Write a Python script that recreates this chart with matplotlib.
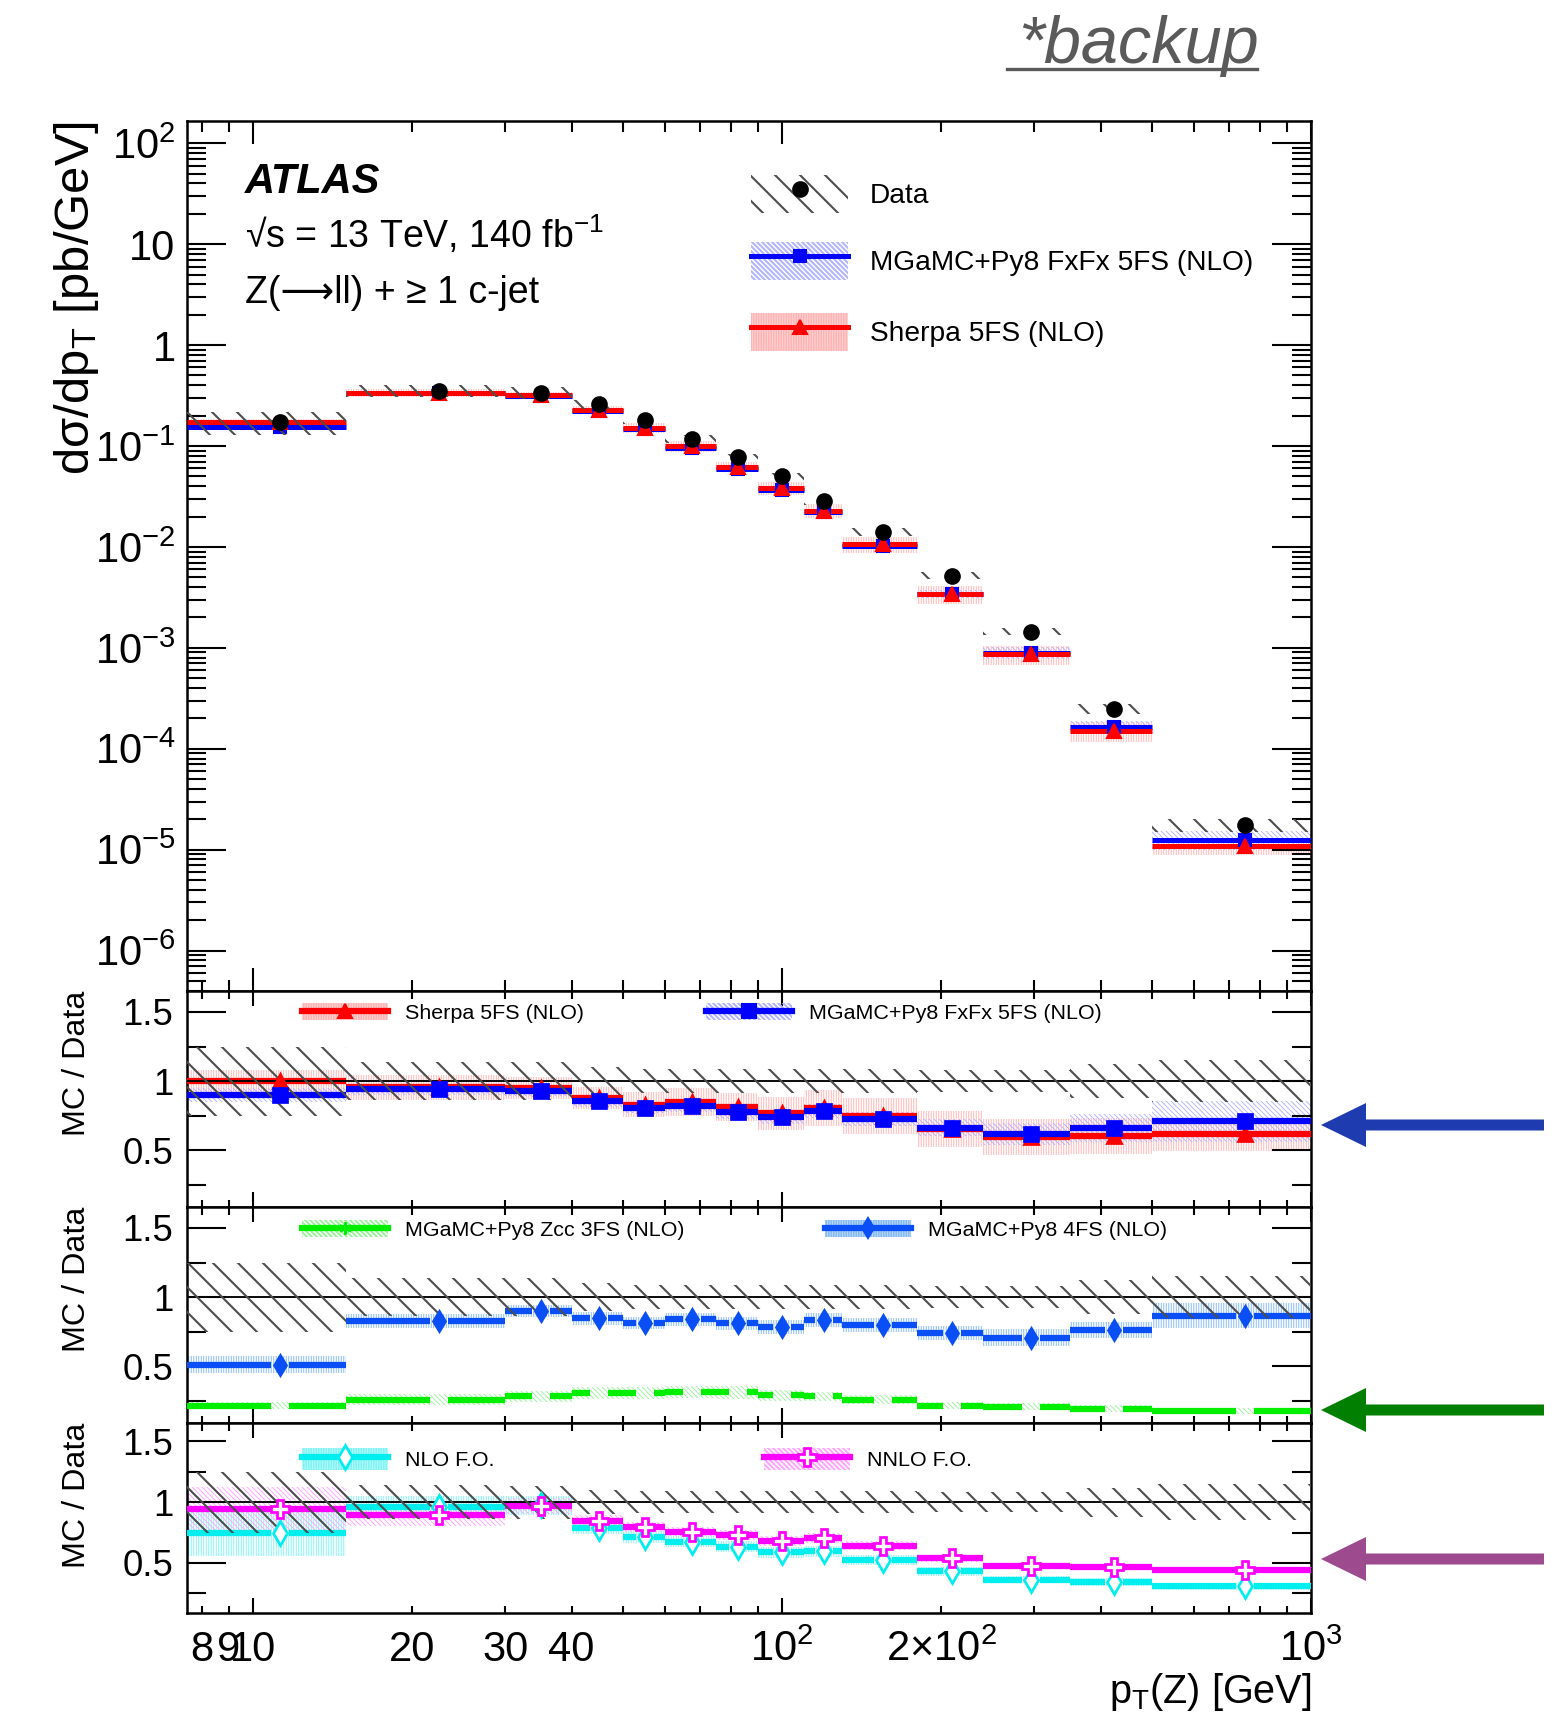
import numpy as np
import matplotlib
matplotlib.use('Agg')
import matplotlib.pyplot as plt
from matplotlib.patches import Patch, Polygon
from matplotlib.lines import Line2D
from matplotlib.legend_handler import HandlerTuple
from matplotlib.ticker import FixedLocator, FuncFormatter, NullFormatter, LogLocator, MultipleLocator

plt.rcParams['font.family'] = ['Liberation Sans', 'DejaVu Sans']
plt.rcParams['mathtext.fontset'] = 'custom'
plt.rcParams['mathtext.rm'] = 'Liberation Sans'
plt.rcParams['mathtext.it'] = 'Liberation Sans:italic'
plt.rcParams['mathtext.bf'] = 'Liberation Sans:bold'

# pT(Z) bin edges [GeV]
edges = [7.5, 15, 30, 40, 50, 60, 75, 90, 110, 130, 180, 240, 350, 500, 1000]

# main panel: dsigma/dpT [pb/GeV]
xsec_data = [0.172, 0.353, 0.335, 0.258, 0.182, 0.117, 0.077, 0.050, 0.0285, 0.0142,
             0.0052, 0.00145, 2.49e-4, 1.77e-5]
unc_data = [0.25, 0.14, 0.135, 0.10, 0.09, 0.09, 0.09, 0.09, 0.09, 0.09, 0.08, 0.08, 0.12, 0.15]
xsec_mg = [0.155, 0.332, 0.312, 0.221, 0.147, 0.0955, 0.0597, 0.0370, 0.0223, 0.0103,
           0.00344, 8.96e-4, 1.64e-4, 1.25e-5]
xsec_sherpa = [0.172, 0.337, 0.318, 0.227, 0.151, 0.0995, 0.0624, 0.0384, 0.0229, 0.0106,
               0.00341, 8.66e-4, 1.50e-4, 1.09e-5]

# ratio panel 1
ratio_mg = [0.90, 0.94, 0.93, 0.855, 0.807, 0.816, 0.775, 0.739, 0.783, 0.727, 0.662, 0.618, 0.659, 0.708]
unc_mg = [0.05, 0.04, 0.04, 0.04, 0.04, 0.04, 0.05, 0.05, 0.05, 0.05, 0.06, 0.08, 0.10, 0.15]
ratio_sherpa = [1.00, 0.955, 0.95, 0.879, 0.83, 0.85, 0.81, 0.768, 0.804, 0.746, 0.655, 0.597, 0.601, 0.616]
unc_sherpa = [0.08, 0.09, 0.08, 0.08, 0.09, 0.10, 0.10, 0.12, 0.13, 0.13, 0.13, 0.13, 0.13, 0.12]

# ratio panel 2
ratio_3fs = [0.212, 0.258, 0.283, 0.307, 0.307, 0.314, 0.31, 0.29, 0.28, 0.258, 0.212, 0.205, 0.19, 0.174]
unc_3fs = [0.025, 0.04, 0.04, 0.045, 0.045, 0.045, 0.045, 0.04, 0.035, 0.03, 0.025, 0.025, 0.025, 0.02]
ratio_4fs = [0.51, 0.828, 0.90, 0.845, 0.814, 0.838, 0.81, 0.785, 0.836, 0.795, 0.737, 0.706, 0.761, 0.865]
unc_4fs = [0.06, 0.05, 0.045, 0.045, 0.045, 0.045, 0.045, 0.05, 0.05, 0.05, 0.05, 0.06, 0.06, 0.09]

# ratio panel 3
ratio_nlo = [0.747, 0.962, 0.973, 0.788, 0.714, 0.676, 0.632, 0.588, 0.596, 0.527, 0.431, 0.363, 0.343, 0.308]
unc_nlo = [0.19, 0.09, 0.08, 0.05, 0.05, 0.045, 0.045, 0.045, 0.045, 0.04, 0.035, 0.03, 0.03, 0.03]
ratio_nnlo = [0.945, 0.898, 0.967, 0.843, 0.794, 0.758, 0.731, 0.681, 0.703, 0.643, 0.538, 0.473, 0.467, 0.445]
unc_nnlo = [0.18, 0.09, 0.065, 0.05, 0.04, 0.04, 0.04, 0.04, 0.04, 0.035, 0.03, 0.025, 0.025, 0.025]

lo = np.array(edges[:-1])
hi = np.array(edges[1:])
ctr = (lo + hi) / 2

W, H = 1562, 1717
DPI = 150
fig = plt.figure(figsize=(W / DPI, H / DPI), dpi=DPI)


def fx(px):
    return px / W


def fy(py):
    return 1 - py / H


L, R = 187, 1311
ax = fig.add_axes([fx(L), fy(991), (R - L) / W, (991 - 121) / H])
ax1 = fig.add_axes([fx(L), fy(1207), (R - L) / W, (1207 - 991) / H], sharex=ax)
ax2 = fig.add_axes([fx(L), fy(1423), (R - L) / W, (1423 - 1207) / H], sharex=ax)
ax3 = fig.add_axes([fx(L), fy(1613), (R - L) / W, (1613 - 1423) / H], sharex=ax)

GREY = '#4d4d4d'
DATA_H = '\\' * 2
DIAG = '\\' * 10
VERT = '|' * 10

C_MG, B_MG = '#0000ff', '#b4b4ff'
C_SH, B_SH = '#ff0000', '#ffb4b4'
C_3F, B_3F = '#00ee00', '#a0f0a0'
C_4F, B_4F = '#0a4ef5', '#86baf4'
C_NLO, B_NLO = '#00eeee', '#80f4f4'
C_NNLO, B_NNLO = '#ff00ff', '#ffa6ff'


def thin_hatch(artist, lw):
    # hatch line width is read when the artist is drawn
    if hasattr(artist, 'set_hatch_linewidth'):
        artist.set_hatch_linewidth(lw)
    orig = artist.draw

    def draw(renderer, *args, **kw):
        with plt.rc_context({'hatch.linewidth': lw}):
            return orig(renderer, *args, **kw)
    artist.draw = draw


def band(a, ylo, yhi, color, hatch, hlw, z):
    bars = a.bar(lo, np.array(yhi) - np.array(ylo), width=hi - lo, bottom=ylo, align='edge',
                 facecolor='none', edgecolor=color, hatch=hatch, linewidth=0, zorder=z)
    for p in bars:
        thin_hatch(p, hlw)
    return bars


def hist_lines(a, y, color, lw, gap=1.0, z=3):
    y = np.array(y)
    if gap > 1.0:
        a.hlines(y, lo, ctr / gap, color=color, lw=lw, zorder=z)
        a.hlines(y, ctr * gap, hi, color=color, lw=lw, zorder=z)
    else:
        a.hlines(y, lo, hi, color=color, lw=lw, zorder=z)


# ---------------- main panel ----------------
d = np.array(xsec_data)
ud = np.array(unc_data)
mg = np.array(xsec_mg)
sh = np.array(xsec_sherpa)
rmg = np.array(unc_mg) / np.array(ratio_mg)
rsh = np.array(unc_sherpa) / np.array(ratio_sherpa)

band(ax, sh * (1 - rsh), sh * (1 + rsh), B_SH, VERT, 0.45, 1)
band(ax, mg * (1 - rmg), mg * (1 + rmg), B_MG, DIAG, 0.45, 1)
hist_lines(ax, mg, C_MG, 2.4)
hist_lines(ax, sh, C_SH, 2.4)
ax.plot(ctr, mg, 's', color=C_MG, ms=6, zorder=4)
ax.plot(ctr, sh, '^', color=C_SH, ms=6.5, zorder=4)
band(ax, d * (1 - ud), d * (1 + ud), GREY, DATA_H, 1.0, 5)
ax.plot(ctr, d, 'o', color='black', ms=7, zorder=6)

ax.set_yscale('log')
ax.set_xscale('log')
ax.set_xlim(7.5, 1000)
ax.set_ylim(10 ** -6.40, 10 ** 2.22)


def ylog_fmt(v, pos):
    e = int(round(np.log10(v)))
    if e == 0:
        return '1'
    if e == 1:
        return '10'
    return r'$\mathregular{10^{%d}}$' % e


ax.yaxis.set_major_locator(LogLocator(base=10, numticks=20))
ax.yaxis.set_minor_locator(LogLocator(base=10, subs=np.arange(2, 10), numticks=20))
ax.yaxis.set_major_formatter(FuncFormatter(ylog_fmt))
ax.yaxis.set_minor_formatter(NullFormatter())

# x ticks for all panels
ax.xaxis.set_major_locator(FixedLocator([10, 100, 1000]))
ax.xaxis.set_minor_locator(FixedLocator([8, 9, 20, 30, 40, 50, 60, 70, 80, 90,
                                         200, 300, 400, 500, 600, 700, 800, 900]))

for a in (ax, ax1, ax2, ax3):
    a.tick_params(which='both', direction='in', top=True, right=True, width=1.0)
    for s in a.spines.values():
        s.set_linewidth(1.2)
ax.tick_params(axis='y', which='major', length=18.5, labelsize=20, pad=5.5)
ax.tick_params(axis='y', which='minor', length=9)
ax.tick_params(axis='x', which='major', length=11)
ax.tick_params(axis='x', which='minor', length=5.3)
for a in (ax, ax1, ax2):
    a.tick_params(axis='x', which='both', labelbottom=False)

# texts
fig.text(fx(245), fy(193), 'ATLAS', fontsize=20, fontweight='bold', fontstyle='italic', va='baseline')
fig.text(fx(245), fy(248), u'\u221as = 13 TeV, 140 fb$^{\\mathregular{-1}}$', fontsize=18, va='baseline')
fig.text(fx(245), fy(303), u'Z(\u27f6ll) + \u2265 1 c-jet', fontsize=18, va='baseline')

ht = {tuple: HandlerTuple(ndivide=1, pad=0)}


def entry(px, py, handles, label, fs, hl, hh, pad, hlw=0.45):
    leg = fig.legend([tuple(handles)], [label], loc='center left',
                     bbox_to_anchor=(fx(px), fy(py)), bbox_transform=fig.transFigure,
                     frameon=False, fontsize=fs, handlelength=hl, handleheight=hh,
                     handletextpad=pad, borderpad=0, borderaxespad=0, handler_map=ht)
    thin_hatch(leg, hlw)
    return leg


def hpatch(color, hatch):
    return Patch(facecolor='none', edgecolor=color, hatch=hatch, linewidth=0)


# main legend
MF = 13.5
entry(751, 194, [hpatch(GREY, DATA_H), Line2D([], [], ls='none', marker='o', color='black', ms=7)],
      'Data', MF, 3.45, 1.67, 0.78, hlw=1.0)
entry(751, 261, [hpatch(B_MG, DIAG), Line2D([], [], color=C_MG, lw=2.4, marker='s', ms=6)],
      'MGaMC+Py8 FxFx 5FS (NLO)', MF, 3.45, 1.67, 0.78)
entry(751, 332, [hpatch(B_SH, VERT), Line2D([], [], color=C_SH, lw=2.4, marker='^', ms=6.5)],
      'Sherpa 5FS (NLO)', MF, 3.45, 1.67, 0.78)

# ---------------- ratio panels ----------------
GAP = 10 ** (9 / 528.9)


def data_band(a):
    u = np.array(unc_data)
    band(a, 1 - u, 1 + u, GREY, DATA_H, 1.0, 5)
    a.axhline(1.0, color='black', lw=0.9, zorder=4)


def ratio_series(a, r, u, lcol, bcol, hatch, marker, ms, mfc=None, gap=1.0):
    r = np.array(r)
    u = np.array(u)
    band(a, r - u, r + u, bcol, hatch, 0.45, 1)
    hist_lines(a, r, lcol, 3.0, gap=gap)
    a.plot(ctr, r, marker, ls='none', color=lcol, ms=ms, zorder=6,
           mfc=(mfc if mfc else lcol), mec=lcol, mew=1.3)


data_band(ax1)
ratio_series(ax1, ratio_sherpa, unc_sherpa, C_SH, B_SH, VERT, '^', 7)
ratio_series(ax1, ratio_mg, unc_mg, C_MG, B_MG, DIAG, 's', 7)

data_band(ax2)
ratio_series(ax2, ratio_3fs, unc_3fs, C_3F, B_3F, DIAG, (6, 2, 0), 6, gap=GAP)
ratio_series(ax2, ratio_4fs, unc_4fs, C_4F, B_4F, VERT, 'd', 7, gap=GAP)

data_band(ax3)
ratio_series(ax3, ratio_nlo, unc_nlo, C_NLO, B_NLO, VERT, 'd', 8, mfc='white', gap=GAP)
ratio_series(ax3, ratio_nnlo, unc_nnlo, C_NNLO, B_NNLO, DIAG, 'P', 8.5, mfc='white', gap=GAP)

for a in (ax1, ax2, ax3):
    a.set_ylim(0.088, 1.652)
    a.yaxis.set_major_locator(MultipleLocator(0.5))
    a.yaxis.set_minor_locator(MultipleLocator(0.25))
    a.yaxis.set_major_formatter(FuncFormatter(lambda v, p: '%g' % v))
    a.tick_params(axis='y', which='major', length=18.5, labelsize=17.5, pad=6.5)
    a.tick_params(axis='y', which='minor', length=9)
    a.tick_params(axis='x', which='major', length=7)
    a.tick_params(axis='x', which='minor', length=3.6)


def xmaj_fmt(v, pos):
    e = int(round(np.log10(v)))
    if e == 1:
        return '10'
    return r'$\mathregular{10^{%d}}$' % e


def xmin_fmt(v, pos):
    labs = {8: '8', 9: '9', 20: '20', 30: '30', 40: '40', 200: r'$\mathregular{2{\times}10^{2}}$'}
    return labs.get(int(round(v)), '')


ax3.xaxis.set_major_formatter(FuncFormatter(xmaj_fmt))
ax3.xaxis.set_minor_formatter(FuncFormatter(xmin_fmt))
ax3.tick_params(axis='x', which='both', labelsize=20, pad=8)

# ratio legends
RF, RHL, RPAD = 10.3, 4.0, 0.8
entry(302, 1013, [hpatch(B_SH, VERT), Line2D([], [], color=C_SH, lw=3, marker='^', ms=7)],
      'Sherpa 5FS (NLO)', RF, RHL, 0.85, RPAD)
entry(706, 1013, [hpatch(B_MG, DIAG), Line2D([], [], color=C_MG, lw=3, marker='s', ms=7)],
      'MGaMC+Py8 FxFx 5FS (NLO)', RF, RHL, 0.85, RPAD)
entry(302, 1230, [hpatch(B_3F, DIAG), Line2D([], [], color=C_3F, lw=3, marker=(6, 2, 0), ms=6)],
      'MGaMC+Py8 Zcc 3FS (NLO)', RF, RHL, 0.85, RPAD)
entry(825, 1230, [hpatch(B_4F, VERT), Line2D([], [], color=C_4F, lw=3, marker='d', ms=7)],
      'MGaMC+Py8 4FS (NLO)', RF, RHL, 0.85, RPAD)
entry(302, 1459, [hpatch(B_NLO, VERT),
                  Line2D([], [], color=C_NLO, lw=3, marker='d', ms=8, mfc='white', mew=1.3)],
      'NLO F.O.', RF, RHL, 1.2, RPAD)
entry(764, 1459, [hpatch(B_NNLO, DIAG),
                  Line2D([], [], color=C_NNLO, lw=3, marker='P', ms=8.5, mfc='white', mew=1.3)],
      'NNLO F.O.', RF, RHL, 1.2, RPAD)

# axis titles
fig.text(fx(77), fy(121), u'd\u03c3/dp$_{\\mathregular{T}}$ [pb/GeV]', rotation=90,
         ha='center', va='top', fontsize=23.5)
for top in (991, 1207, 1423):
    fig.text(fx(77), fy(top), 'MC / Data', rotation=90, ha='center', va='top', fontsize=15.5)
fig.text(fx(1311), fy(1703), r'p$_{\mathregular{T}}$(Z) [GeV]', ha='right', va='baseline', fontsize=19)

# "*backup" note
fig.text(fx(1018), fy(63), '*backup', fontsize=32, fontstyle='italic', color='#5a5a5a', va='baseline')
fig.add_artist(Line2D([fx(1007), fx(1257)], [fy(69), fy(69)], transform=fig.transFigure,
                      color='#5a5a5a', lw=1.6))

# arrows on the right
for yc, col in [(1125, '#1f3bb0'), (1410, '#007f00'), (1559, '#9e4a8e')]:
    pts = [(1321, yc), (1366, yc - 22), (1366, yc - 5.5), (1544, yc - 5.5),
           (1544, yc + 5.5), (1366, yc + 5.5), (1366, yc + 22)]
    fig.add_artist(Polygon([(fx(x), fy(y)) for x, y in pts], closed=True, transform=fig.transFigure,
                           facecolor=col, edgecolor='none'))

fig.savefig('out.png', dpi=DPI)
